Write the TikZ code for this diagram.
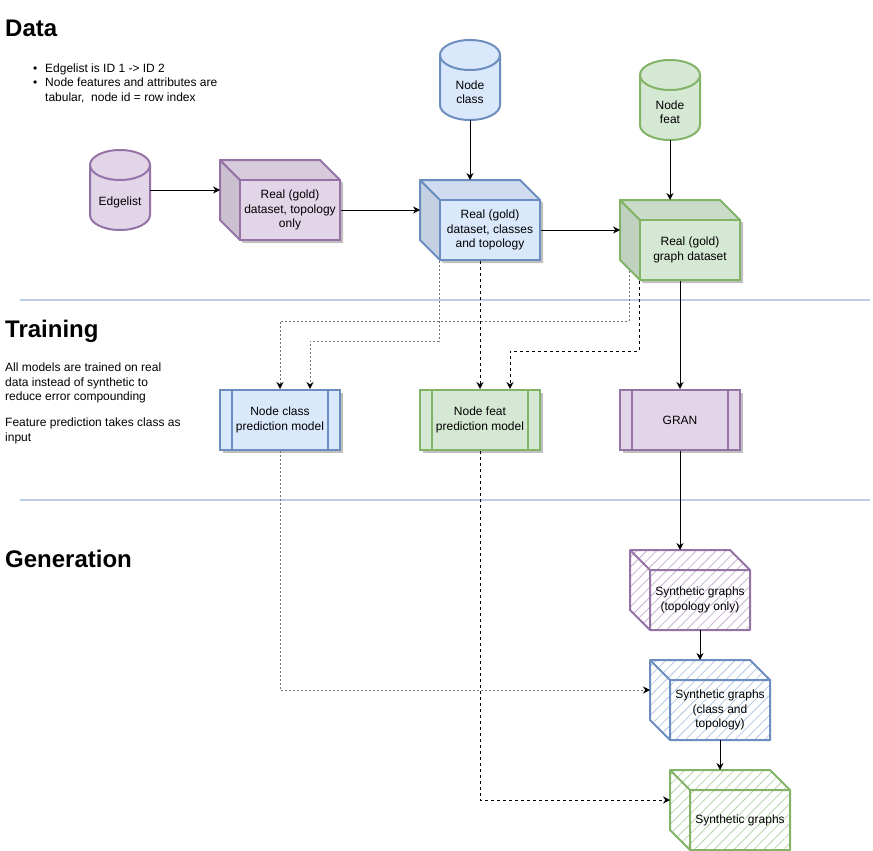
\documentclass[tikz,border=0pt]{standalone}
\usepackage{fontspec}
\setmainfont{Liberation Sans}
\usetikzlibrary{arrows.meta,calc,patterns.meta,shadows}
\definecolor{purplefill}{HTML}{E1D5E7}
\definecolor{purpleline}{HTML}{9673A6}
\definecolor{bluefill}{HTML}{DAE8FC}
\definecolor{blueline}{HTML}{6C8EBF}
\definecolor{greenfill}{HTML}{D5E8D4}
\definecolor{greenline}{HTML}{82B366}
\definecolor{sepline}{HTML}{BCCDE6}
\tikzset{
    txt/.style={font=\fontsize{12}{14.5}\selectfont, align=center, text=black},
    heading/.style={font=\fontsize{24}{28}\selectfont\bfseries, anchor=base west, inner sep=0},
    note/.style={font=\fontsize{12}{14.5}\selectfont, align=left, anchor=north west, inner sep=0},
    flow/.style={-{Stealth[length=7pt,width=7pt,color=black]}, line width=1pt},
    dotflow/.style={flow, draw=black!55, dash pattern=on 2pt off 2pt},
    dashflow/.style={flow, dash pattern=on 3pt off 3pt},
    model/.style={txt, draw=#1line, fill=#1fill, line width=2pt, minimum width=120pt, minimum height=60pt,
        drop shadow={shadow xshift=3pt, shadow yshift=-3pt, opacity=.25, fill=black}},
    sep/.style={draw=sepline, line width=2pt}
}
\newcommand{\dbcyl}[5]{%
    \filldraw[#4line, fill=#4fill, line width=2pt] (#2-30,-#3-15) -- ++(0,-50)
        arc[start angle=180, end angle=360, x radius=30, y radius=15] -- ++(0,50)
        arc[start angle=0, end angle=180, x radius=30, y radius=15] -- cycle;
    \draw[#4line, line width=2pt] (#2-30,-#3-15) arc[start angle=180, end angle=360, x radius=30, y radius=15];
    \draw (#2,-#3-52) node[txt, minimum width=60pt, minimum height=56pt](#1){#5};
}
\newcommand{\realcube}[5]{%
    \fill[black, opacity=.25] (#2+3,-#3-3) -- ++(100,0) -- ++(20,-20) -- ++(0,-60) -- ++(-100,0) -- ++(-20,20) -- cycle;
    \filldraw[#4line, fill=#4fill!90!black, line width=2pt, line join=round] (#2,-#3) -- ++(20,-20) -- ++(0,-60) -- ++(-20,20) -- cycle;
    \filldraw[#4line, fill=#4fill!95!black, line width=2pt, line join=round] (#2,-#3) -- ++(100,0) -- ++(20,-20) -- ++(-100,0) -- cycle;
    \draw (#2+70,-#3-50) node[txt, draw=#4line, fill=#4fill, line width=2pt, minimum width=100pt, minimum height=60pt](#1){#5};
    \coordinate (#1-top) at (#2+50,-#3);
    \coordinate (#1-left) at (#2,-#3-30);
}
\newcommand{\syncube}[5]{%
    \draw[#4line, line width=2pt, line join=round, pattern={Lines[angle=45, distance=7pt, line width=.8pt]},
        pattern color=#4fill!65!#4line] (#2,-#3) -- ++(100,0) -- ++(20,-20) -- ++(0,-60) -- ++(-100,0) -- ++(-20,20) -- cycle;
    \draw[#4line, line width=2pt, line join=round] (#2,-#3) -- ++(20,-20) -- ++(100,0) ++(-100,0) -- ++(0,-60);
    \draw (#2+70,-#3-50) node[txt, minimum width=100pt, minimum height=60pt](#1){#5};
    \coordinate (#1-top) at (#2+50,-#3);
    \coordinate (#1-left) at (#2,-#3-30);
}
\newcommand{\modelbox}[5]{%
    \draw (#2,-#3) node[model=#4](#1){#5};
    \draw[#4line, line width=2pt] ([xshift=13pt]#1.north west) -- ([xshift=13pt]#1.south west)
        ([xshift=-13pt]#1.north east) -- ([xshift=-13pt]#1.south east);
}
\begin{document}
\begin{tikzpicture}[x=1pt, y=1pt]
    \fill[white] (0,0) rectangle (873,-851);
    \useasboundingbox (0,0) rectangle (873,-851);

    \draw (5,-37) node[heading](datahead){Data};
    \draw (5,-337) node[heading](trainhead){Training};
    \draw (5,-567) node[heading](genhead){Generation};
    \draw (33,-62) node[note](datanote){%
        \begin{tabular}{@{}l@{\hspace{7.8pt}}l@{}}
            \textbullet & Edgelist is ID 1 -> ID 2\\
            \textbullet & Node features and attributes are\\
                        & tabular,\ \ node id = row index
        \end{tabular}};
    \draw (5,-363) node[note](trainnote){All models are trained on real\\
        data instead of synthetic to\\ reduce error compounding\\[11.5pt]
        Feature prediction takes class as\\ input};

    \draw[sep] (20,-300) -- (870,-300);
    \draw[sep] (20,-500) -- (870,-500);

    \dbcyl{edgelist}{120}{150}{purple}{Edgelist}
    \dbcyl{nodeclass}{470}{40}{blue}{Node\\class}
    \dbcyl{nodefeat}{670}{60}{green}{Node\\feat}

    \realcube{topo}{220}{160}{purple}{Real (gold)\\dataset, topology\\only}
    \realcube{realclass}{420}{180}{blue}{Real (gold)\\dataset, classes\\and topology}
    \realcube{realgraph}{620}{200}{green}{Real (gold)\\graph dataset}

    \modelbox{ncpred}{280}{420}{blue}{Node class\\prediction model}
    \modelbox{nfpred}{480}{420}{green}{Node feat\\prediction model}
    \modelbox{gran}{680}{420}{purple}{GRAN}

    \syncube{syntopo}{630}{550}{purple}{Synthetic graphs\\(topology only)}
    \syncube{synclass}{650}{660}{blue}{Synthetic graphs\\(class and\\topology)}
    \syncube{syngraph}{670}{770}{green}{Synthetic graphs}

    \draw[flow] (edgelist.east |- topo-left) -- (topo-left);
    \draw[flow] (topo.east) -- (realclass-left);
    \draw[flow] (realclass.east) -- (realgraph-left);
    \draw[flow] (nodeclass.south) -- (realclass-top);
    \draw[flow] (nodefeat.south) -- (realgraph-top);
    \draw[dotflow] (realclass.south west) -- ++(0,-80) -| ([xshift=30pt]ncpred.north);
    \draw[dashflow] (nfpred.north |- realclass.south) -- (nfpred.north);
    \draw[dotflow] ([xshift=-10pt,yshift=10pt]realgraph.south west) -- ++(0,-50) -| (ncpred.north);
    \draw[dashflow] (realgraph.south west) -- ++(0,-70) -| ([xshift=30pt]nfpred.north);
    \draw[flow] (gran.north |- realgraph.south) -- (gran.north);
    \draw[flow] (gran.south) -- (syntopo-top);
    \draw[flow] (syntopo.south) -- (synclass-top);
    \draw[flow] (synclass.south) -- (syngraph-top);
    \draw[dotflow] (ncpred.south) |- (synclass-left);
    \draw[dashflow] (nfpred.south) |- (syngraph-left);
\end{tikzpicture}
\end{document}
